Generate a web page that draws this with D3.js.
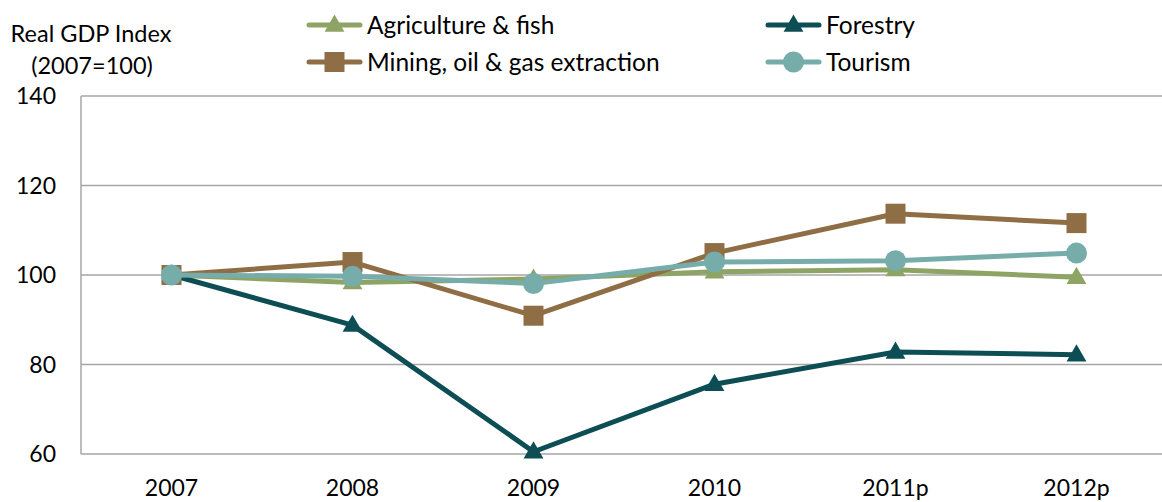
<!DOCTYPE html>
<html><head><meta charset="utf-8">
<script src="https://cdn.jsdelivr.net/npm/d3@7"></script>
<style>body{margin:0;background:#fff}svg{display:block;font-family:Lato,"Open Sans",sans-serif}</style>
</head><body>
<svg id="c" width="1162" height="502"></svg>
<script>
const categories = ["2007","2008","2009","2010","2011p","2012p"];
const agriculture = [100, 98.3, 99.1, 100.7, 101.2, 99.5];
const forestry = [100, 88.8, 60.5, 75.6, 82.8, 82.2];
const mining = [100, 102.9, 90.9, 104.9, 113.7, 111.6];
const tourism = [100, 99.7, 98.1, 102.9, 103.2, 104.9];
const yTicks = [60, 80, 100, 120, 140];
const seriesNames = ["Agriculture & fish","Forestry","Mining, oil & gas extraction","Tourism"];

const series = [
  {name: seriesNames[0], values: agriculture, color: "#8EA464", shape: "tri"},
  {name: seriesNames[1], values: forestry, color: "#0D4E55", shape: "tri"},
  {name: seriesNames[2], values: mining, color: "#8F6E45", shape: "sq"},
  {name: seriesNames[3], values: tourism, color: "#76ADAA", shape: "circ"}
];

const svg = d3.select("#c");
const x = d3.scaleBand().domain(categories).range([81, 1167]);
const y = d3.scaleLinear().domain([60, 140]).range([454, 96]);
const cx = c => x(c) + x.bandwidth()/2;

// gridlines
svg.append("g").selectAll("line").data(yTicks).join("line")
  .attr("x1", 81).attr("x2", 1162)
  .attr("y1", d => y(d)).attr("y2", d => y(d))
  .attr("stroke", "#a6a6a6").attr("stroke-width", 1.5);
svg.append("line").attr("x1", 81).attr("x2", 81).attr("y1", y(140)).attr("y2", y(60))
  .attr("stroke", "#a6a6a6").attr("stroke-width", 1.5);

// y tick labels
svg.append("g").selectAll("text").data(yTicks).join("text")
  .attr("x", 56).attr("y", d => y(d)).attr("dy", "0.36em")
  .attr("text-anchor", "end").attr("font-size", 23).attr("fill", "#000").text(d => d);
// x labels
svg.append("g").selectAll("text").data(categories).join("text")
  .attr("x", d => cx(d)).attr("y", 496)
  .attr("text-anchor", "middle").attr("font-size", 23).attr("fill", "#000").text(d => d);

// y title
svg.append("text").attr("x", 91).attr("y", 42).attr("text-anchor", "middle").attr("font-size", 23.5).text("Real GDP Index");
svg.append("text").attr("x", 92).attr("y", 74).attr("text-anchor", "middle").attr("font-size", 23.5).text("(2007=100)");

function marker(g, shape, color, px, py) {
  if (shape === "tri") {
    g.append("path").attr("d", d3.symbol().type(d3.symbolTriangle).size(170)())
      .attr("transform", `translate(${px},${py+1})`).attr("fill", color);
  } else if (shape === "sq") {
    g.append("rect").attr("x", px-10).attr("y", py-10).attr("width", 20).attr("height", 20).attr("fill", color);
  } else {
    g.append("circle").attr("cx", px).attr("cy", py).attr("r", 10.5).attr("fill", color);
  }
}

const line = d3.line().x((d,i) => cx(categories[i])).y(d => y(d));
series.forEach(s => {
  const g = svg.append("g");
  g.append("path").attr("d", line(s.values)).attr("fill", "none")
    .attr("stroke", s.color).attr("stroke-width", 5).attr("stroke-linejoin", "round");
  s.values.forEach((v,i) => marker(g, s.shape, s.color, cx(categories[i]), y(v)));
});

// legend
const legendPos = [[307,25],[766,25],[307,62],[766,62]];
series.forEach((s,i) => {
  const [lx, ly] = legendPos[i];
  const g = svg.append("g");
  g.append("line").attr("x1", lx+2).attr("x2", lx+53).attr("y1", ly).attr("y2", ly)
    .attr("stroke", s.color).attr("stroke-width", 5).attr("stroke-linecap", "round");
  marker(g, s.shape, s.color, lx+27.5, ly);
  g.append("text").attr("x", lx+60).attr("y", ly).attr("dy", "0.36em").attr("font-size", 24.5).text(s.name);
});
</script>
</body></html>
